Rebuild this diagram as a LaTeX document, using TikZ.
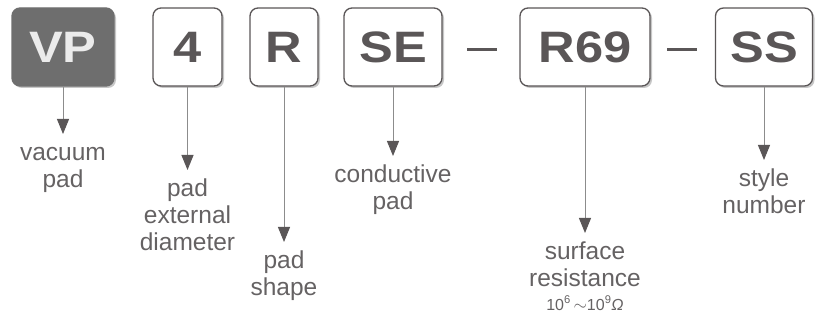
\documentclass[tikz,border=0pt]{standalone}
\usepackage{fontspec}
\setmainfont{Liberation Sans}
\newfontfamily\codefont[FakeStretch=1.15]{Liberation Sans}
\usetikzlibrary{arrows.meta,shadows}

\definecolor{ink}{HTML}{5A5657}
\definecolor{note}{HTML}{656263}
\definecolor{wire}{HTML}{8C8C8C}
\definecolor{padfill}{HTML}{6E6E6E}

\tikzset{
  code/.style={draw=ink, line width=1.3pt, rounded corners=8pt, fill=white, text=ink,
    font=\codefont\bfseries\fontsize{44}{44}\selectfont,
    minimum height=78pt, inner sep=0pt,
    drop shadow={shadow xshift=2pt, shadow yshift=-2pt, fill=black, opacity=.22}},
  lbl/.style={anchor=north, align=center, text=note, inner sep=0pt,
    font=\fontsize{24.5}{27}\selectfont},
  conn/.style={draw=wire, line width=1pt, shorten >=7pt,
    -{Triangle[length=15pt,width=12pt,color=ink]}},
  sep/.style={draw=ink, line width=3pt}
}

\begin{document}
\begin{tikzpicture}[x=1pt,y=-1pt]
  \useasboundingbox (0,0) rectangle (815,326);

  % code boxes
  \node[code, fill=padfill, draw=padfill, text=white!92!black, minimum width=102pt] (vp) at (63,47) {VP};
  \node[code, minimum width=69pt] (dia) at (187.5,47) {4};
  \node[code, minimum width=68pt] (shp) at (284,47) {R};
  \node[code, minimum width=98pt] (cond) at (393,47) {SE};
  \node[code, minimum width=130pt] (res) at (585,47) {R69};
  \node[code, minimum width=97pt] (sty) at (764,47) {SS};

  \draw[sep] (467,50) -- (497,50);
  \draw[sep] (667,50) -- (697,50);

  % meanings
  \node[lbl] (vpl) at (63,141) {\strut vacuum\\pad};
  \node[lbl] (dial) at (187.5,177) {\strut pad\\external\\diameter};
  \node[lbl] (shpl) at (284,249) {\strut pad\\shape};
  \node[lbl] (condl) at (393,163) {\strut conductive\\pad};
  \node[lbl] (resl) at (585,240) {\strut surface\\resistance\\[-3pt]
    {\fontsize{16}{20}\selectfont 10\textsuperscript{6}\,$\sim$10\textsuperscript{9}\textit{Ω}}};
  \node[lbl] (styl) at (764,167) {\strut style\\number};

  \draw[conn] (vp) -- (vpl);
  \draw[conn] (dia) -- (dial);
  \draw[conn] (shp) -- (shpl);
  \draw[conn] (cond) -- (condl);
  \draw[conn] (res) -- (resl);
  \draw[conn] (sty) -- (styl);
\end{tikzpicture}
\end{document}
